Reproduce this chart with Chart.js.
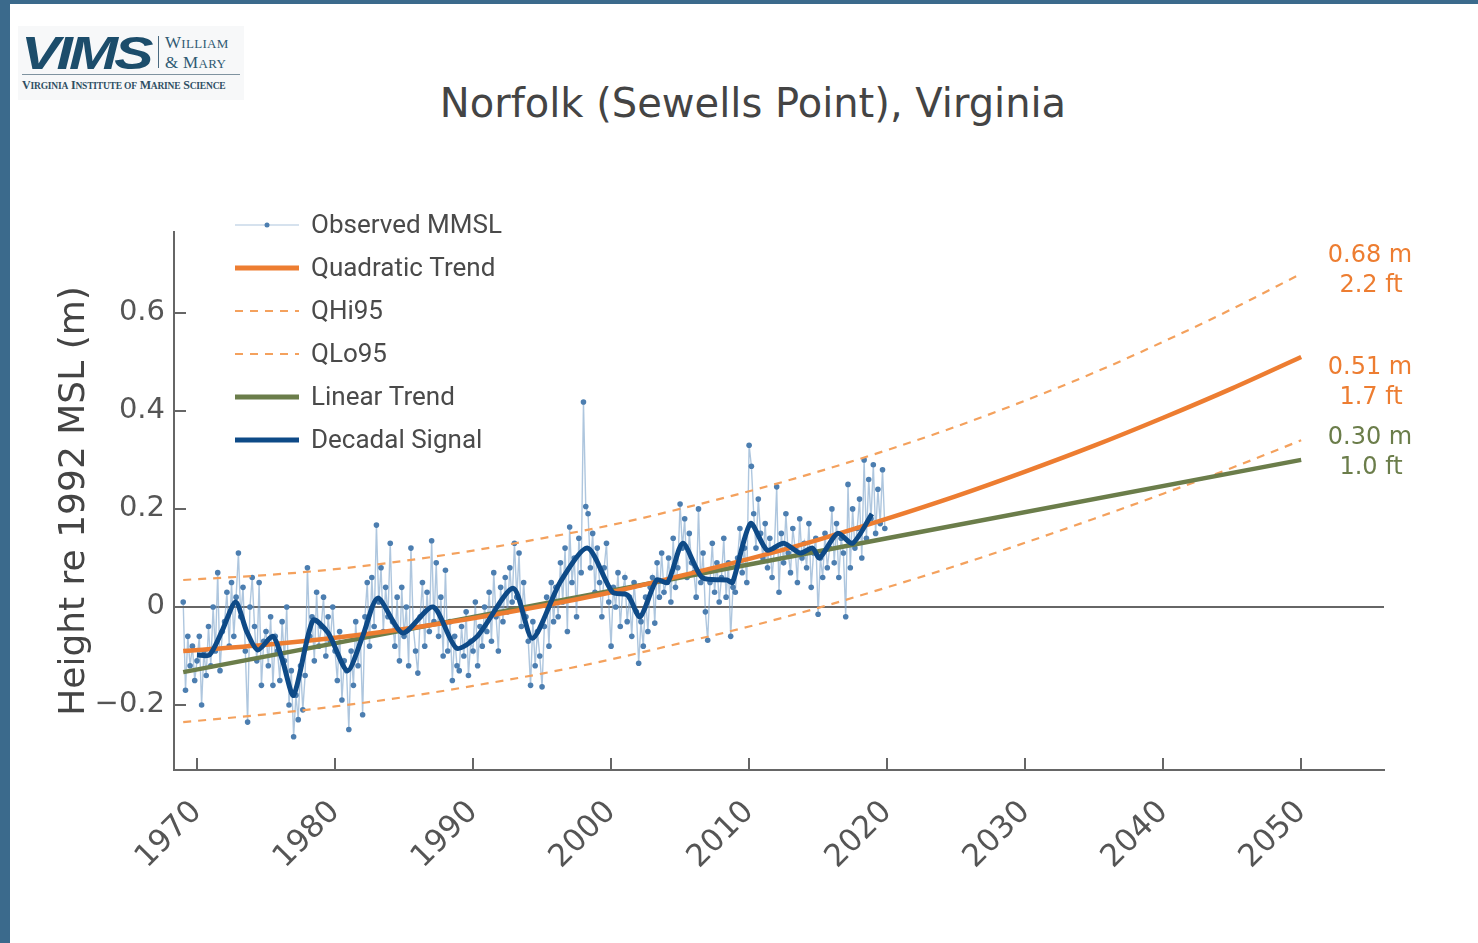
<!DOCTYPE html>
<html>
<head>
<meta charset="utf-8">
<title>Norfolk (Sewells Point), Virginia</title>
<script src="https://cdn.jsdelivr.net/npm/chart.js@4.4.1/dist/chart.umd.min.js"></script>
<style>
    html, body { margin: 0; padding: 0; }
    body { width: 1478px; height: 943px; background: #3b6a8c; position: relative; overflow: hidden; }
    #panel { position: absolute; left: 10px; top: 4px; width: 1468px; height: 939px; background: #fff; }
    #chart { position: absolute; left: 0; top: 0; }
    #title { position: absolute; left: 0; width: 1506px; top: 80px; text-align: center;
             font: 40px "DejaVu Sans", sans-serif; color: #444; }
    #logo { position: absolute; left: 18px; top: 26px; width: 226px; height: 74px; background: #f7f8f9; }
    #logo .vims { position: absolute; left: 3px; top: 0px; font: italic bold 46px "Liberation Sans", sans-serif;
                  letter-spacing: -3px; color: #1c4d6b; transform: scaleX(1.28); transform-origin: left; }
    #logo .bar { position: absolute; left: 140px; top: 10px; width: 1px; height: 32px; background: #4a6a80; }
    #logo .wm { position: absolute; left: 147px; top: 7px; font: 17px "Liberation Serif", serif; color: #2f5a73;
                line-height: 19px; letter-spacing: 0.3px; }
    #logo .wm small { font-size: 13px; }
    #logo .rule { position: absolute; left: 4px; top: 48px; width: 218px; height: 1px; background: #7f93a0; }
    #logo .vi { position: absolute; left: 4px; top: 52px; font: bold 12px "Liberation Serif", serif; color: #2f4f63;
                letter-spacing: -0.2px; white-space: nowrap; }
    #logo .vi small { font-size: 9.5px; }
</style>
</head>
<body>
<div id="panel"></div>
<div id="logo">
    <div class="vims">VIMS</div>
    <div class="bar"></div>
    <div class="wm">W<small>ILLIAM</small><br>&amp; M<small>ARY</small></div>
    <div class="rule"></div>
    <div class="vi">V<small>IRGINIA</small> I<small>NSTITUTE OF</small> M<small>ARINE</small> S<small>CIENCE</small></div>
</div>
<div id="title">Norfolk (Sewells Point), Virginia</div>
<canvas id="chart" width="1478" height="943"></canvas>
<script>
// observed monthly mean sea level, six values per year
var obsYears = [
    1969, 1970, 1971, 1972, 1973, 1974, 1975, 1976, 1977, 1978,
    1979, 1980, 1981, 1982, 1983, 1984, 1985, 1986, 1987, 1988,
    1989, 1990, 1991, 1992, 1993, 1994, 1995, 1996, 1997, 1998,
    1999, 2000, 2001, 2002, 2003, 2004, 2005, 2006, 2007, 2008,
    2009, 2010, 2011, 2012, 2013, 2014, 2015, 2016, 2017, 2018, 2019
];
var obsValues = [
    [0.01, -0.17, -0.06, -0.12, -0.08, -0.15],
    [-0.11, -0.06, -0.20, -0.09, -0.14, -0.04],
    [-0.12, 0.00, -0.09, 0.07, -0.13, -0.05],
    [-0.03, 0.03, -0.08, 0.05, -0.06, 0.02],
    [0.11, -0.02, 0.04, -0.09, -0.235, 0.00],
    [0.06, -0.04, -0.11, 0.05, -0.16, -0.07],
    [-0.05, -0.12, -0.02, -0.16, -0.06, -0.09],
    [-0.15, -0.03, -0.11, 0.00, -0.20, -0.13],
    [-0.265, -0.18, -0.23, -0.12, -0.21, -0.14],
    [0.08, -0.06, -0.02, -0.11, 0.03, -0.08],
    [-0.04, 0.02, -0.10, -0.02, -0.07, 0.00],
    [-0.09, -0.15, -0.05, -0.19, -0.11, -0.13],
    [-0.25, -0.09, -0.16, -0.03, -0.12, -0.06],
    [-0.22, -0.02, 0.05, -0.08, 0.06, -0.04],
    [0.167, 0.01, 0.08, -0.05, 0.04, -0.02],
    [0.13, -0.03, -0.08, 0.02, -0.11, 0.04],
    [-0.06, 0.00, -0.12, 0.12, -0.04, -0.09],
    [-0.135, -0.02, 0.05, -0.08, 0.03, -0.05],
    [0.135, -0.03, 0.09, -0.06, 0.02, -0.10],
    [0.075, -0.09, -0.03, -0.15, -0.06, -0.12],
    [-0.13, -0.04, -0.10, -0.01, -0.14, -0.07],
    [-0.09, 0.01, -0.12, -0.04, -0.08, 0.00],
    [-0.05, 0.03, -0.07, 0.07, -0.02, -0.09],
    [0.04, -0.03, 0.06, -0.01, 0.08, 0.01],
    [0.13, 0.02, 0.11, -0.04, 0.05, -0.02],
    [-0.07, -0.16, -0.03, -0.12, -0.05, -0.10],
    [-0.163, -0.04, 0.02, -0.08, 0.05, -0.03],
    [0.04, -0.02, 0.09, 0.01, 0.12, -0.05],
    [0.163, 0.05, 0.10, -0.02, 0.14, 0.07],
    [0.418, 0.205, 0.19, 0.08, 0.15, 0.03],
    [0.12, 0.05, -0.02, 0.08, 0.13, 0.01],
    [-0.08, 0.04, 0.00, 0.07, -0.04, 0.03],
    [0.06, -0.03, 0.02, -0.06, 0.05, -0.01],
    [-0.115, -0.03, -0.08, 0.02, -0.05, 0.04],
    [0.06, -0.033, 0.09, 0.02, 0.11, 0.03],
    [0.05, 0.10, 0.01, 0.14, 0.04, 0.08],
    [0.21, 0.12, 0.18, 0.06, 0.15, 0.09],
    [0.07, 0.02, 0.20, 0.05, 0.11, -0.01],
    [-0.068, 0.05, 0.13, 0.03, 0.09, 0.01],
    [0.06, 0.14, 0.02, 0.09, -0.06, 0.04],
    [0.03, 0.10, 0.16, 0.07, 0.12, 0.05],
    [0.33, 0.287, 0.19, 0.12, 0.22, 0.15],
    [0.10, 0.17, 0.08, 0.14, 0.06, 0.12],
    [0.245, 0.03, 0.15, 0.09, 0.19, 0.11],
    [0.07, 0.16, 0.12, 0.05, 0.18, 0.10],
    [0.13, 0.08, 0.17, 0.04, 0.11, 0.14],
    [-0.015, 0.10, 0.06, 0.15, 0.08, 0.12],
    [0.20, 0.09, 0.17, 0.06, 0.14, 0.11],
    [-0.02, 0.25, 0.08, 0.20, 0.12, 0.16],
    [0.22, 0.10, 0.30, 0.14, 0.26, 0.18],
    [0.29, 0.15, 0.24, 0.17, 0.28, 0.16]
];

var decadalYears = [
    1970.0, 1970.9, 1971.8, 1972.8, 1973.6, 1974.4, 1975.5, 1976.2, 1977.0, 1978.4,
    1979.5, 1980.9, 1982.0, 1983.1, 1984.9, 1987.1, 1988.8, 1990.3, 1992.9, 1994.3,
    1996.3, 1998.3, 2000.1, 2001.2, 2002.1, 2003.3, 2004.1, 2005.2, 2006.6, 2008.4,
    2008.8, 2010.1, 2011.3, 2012.5, 2013.7, 2014.6, 2015.1, 2016.4, 2017.5, 2018.9
];
var decadalValues = [
    -0.098, -0.098, -0.05, 0.01, -0.05, -0.088, -0.06, -0.11, -0.18, -0.027,
    -0.053, -0.13, -0.06, 0.018, -0.053, 0.0, -0.084, -0.06, 0.038, -0.064,
    0.05, 0.12, 0.03, 0.024, -0.02, 0.055, 0.05, 0.13, 0.06, 0.055,
    0.05, 0.17, 0.116, 0.13, 0.11, 0.12, 0.10, 0.15, 0.13, 0.19
];

var trendYears  = [1969, 1975, 1980, 1985, 1990, 1995, 2000, 2005, 2010, 2015, 2020, 2025, 2030, 2035, 2040, 2045, 2050];
var quadValues  = [-0.090, -0.077, -0.063, -0.045, -0.023, 0.002, 0.030, 0.063, 0.098, 0.137, 0.180, 0.226, 0.276, 0.329, 0.386, 0.446, 0.510];
var qHiValues   = [0.055, 0.065, 0.077, 0.094, 0.115, 0.140, 0.167, 0.200, 0.236, 0.276, 0.320, 0.368, 0.421, 0.478, 0.541, 0.608, 0.680];
var qLoValues   = [-0.235, -0.219, -0.203, -0.184, -0.161, -0.136, -0.107, -0.074, -0.040, -0.002, 0.040, 0.084, 0.131, 0.180, 0.231, 0.284, 0.340];

var linearYears  = [1969, 2020, 2050];
var linearValues = [-0.133, 0.140, 0.300];

var xTicks = [1970, 1980, 1990, 2000, 2010, 2020, 2030, 2040, 2050];
var yTicks = [-0.2, 0, 0.2, 0.4, 0.6];

var endLabels = [
    { lines: ["0.68 m", "2.2 ft"], color: "#ed7d31", y: 271 },
    { lines: ["0.51 m", "1.7 ft"], color: "#ed7d31", y: 383 },
    { lines: ["0.30 m", "1.0 ft"], color: "#6b7d4a", y: 453 }
];

var ORANGE = "#ed7d31", ORANGE_LT = "#f4a15d", GREEN = "#6b7d4a", NAVY = "#0e4a87";

function pairs(xs, ys) {
    return xs.map(function (x, i) { return { x: x, y: ys[i] }; });
}

var obsPoints = [];
obsYears.forEach(function (yr, i) {
    obsValues[i].forEach(function (v, m) {
        obsPoints.push({ x: yr + m / 6, y: v });
    });
});

// tick marks point into the plot, and the legend sits inside it
var insideTicks = {
    id: "insideTicks",
    afterDraw: function (chart) {
        var c = chart.ctx, a = chart.chartArea;
        var xs = chart.scales.x, ys = chart.scales.y;
        c.save();
        c.strokeStyle = "#666";
        c.lineWidth = 2;
        xTicks.forEach(function (t) {
            var px = Math.round(xs.getPixelForValue(t));
            c.beginPath(); c.moveTo(px, a.bottom); c.lineTo(px, a.bottom - 12); c.stroke();
        });
        yTicks.forEach(function (t) {
            var py = Math.round(ys.getPixelForValue(t));
            c.beginPath(); c.moveTo(a.left, py); c.lineTo(a.left + 12, py); c.stroke();
        });
        c.restore();
    }
};

var legendBox = {
    id: "legendBox",
    afterDraw: function (chart) {
        var c = chart.ctx;
        var x0 = 235, x1 = 299, tx = 311, top = 225, step = 43;
        c.save();
        c.font = "26px Roboto, sans-serif";
        c.textBaseline = "middle";
        chart.data.datasets.forEach(function (ds, i) {
            var y = top + step * i;
            c.strokeStyle = ds.borderColor;
            c.lineWidth = ds.legendWidth;
            c.setLineDash(ds.borderDash || []);
            c.beginPath(); c.moveTo(x0, y); c.lineTo(x1, y); c.stroke();
            c.setLineDash([]);
            if (ds.pointRadius > 0) {
                c.fillStyle = ds.pointBackgroundColor;
                c.beginPath(); c.arc((x0 + x1) / 2, y, 2.5, 0, Math.PI * 2); c.fill();
            }
            c.fillStyle = "#4a4a4a";
            c.fillText(ds.label, tx, y + 1);
        });
        c.restore();
    }
};

var endText = {
    id: "endText",
    afterDraw: function (chart) {
        var c = chart.ctx;
        c.save();
        c.font = "24px 'DejaVu Sans', sans-serif";
        c.textAlign = "center";
        c.textBaseline = "middle";
        endLabels.forEach(function (lab) {
            c.fillStyle = lab.color;
            c.fillText(lab.lines[0], 1370, lab.y - 15);
            c.fillText(lab.lines[1], 1371, lab.y + 15);
        });
        c.restore();
    }
};

new Chart(document.getElementById("chart").getContext("2d"), {
    type: "line",
    data: {
        datasets: [
            {
                label: "Observed MMSL", data: obsPoints, order: 5,
                borderColor: "rgba(120,160,200,0.6)", borderWidth: 1.4, legendWidth: 1.2,
                pointRadius: 2.8, pointBackgroundColor: "#4c7eb0", pointBorderWidth: 0
            },
            {
                label: "Quadratic Trend", data: pairs(trendYears, quadValues), order: 1,
                borderColor: ORANGE, borderWidth: 4.5, legendWidth: 5, pointRadius: 0, cubicInterpolationMode: "monotone"
            },
            {
                label: "QHi95", data: pairs(trendYears, qHiValues), order: 3,
                borderColor: ORANGE_LT, borderWidth: 2.2, legendWidth: 2, borderDash: [8, 7], pointRadius: 0,
                cubicInterpolationMode: "monotone"
            },
            {
                label: "QLo95", data: pairs(trendYears, qLoValues), order: 3,
                borderColor: ORANGE_LT, borderWidth: 2.2, legendWidth: 2, borderDash: [8, 7], pointRadius: 0,
                cubicInterpolationMode: "monotone"
            },
            {
                label: "Linear Trend", data: pairs(linearYears, linearValues), order: 2,
                borderColor: GREEN, borderWidth: 4.5, legendWidth: 5, pointRadius: 0
            },
            {
                label: "Decadal Signal", data: pairs(decadalYears, decadalValues), order: 0,
                borderColor: NAVY, borderWidth: 5, legendWidth: 5, pointRadius: 0, tension: 0.25
            }
        ]
    },
    options: {
        responsive: false,
        animation: false,
        layout: { padding: { top: 232, right: 94, left: 0, bottom: 0 } },
        plugins: { legend: { display: false }, tooltip: { enabled: false } },
        scales: {
            x: {
                type: "linear", min: 1968.333, max: 2056,
                afterBuildTicks: function (s) { s.ticks = xTicks.map(function (v) { return { value: v }; }); },
                afterFit: function (s) { s.height = 173; },
                grid: { display: false, drawTicks: false },
                border: { display: true, color: "#666", width: 2 },
                ticks: {
                    minRotation: 45, maxRotation: 45, padding: 24, autoSkip: false,
                    color: "#555", font: { family: "'DejaVu Sans'", size: 31 },
                    callback: function (v) { return String(v); }
                }
            },
            y: {
                min: -0.3327, max: 0.765,
                afterBuildTicks: function (s) { s.ticks = yTicks.map(function (v) { return { value: v }; }); },
                afterFit: function (s) { s.width = 174; },
                grid: {
                    drawTicks: false, lineWidth: 2,
                    color: function (ctx) { return ctx.tick && ctx.tick.value === 0 ? "#666" : "rgba(0,0,0,0)"; }
                },
                border: { display: true, color: "#666", width: 2 },
                ticks: {
                    padding: 9, color: "#555", font: { family: "'DejaVu Sans'", size: 29 },
                    callback: function (v) {
                        if (v === 0) return "0";
                        return (v < 0 ? "\u2212" : "") + Math.abs(v).toFixed(1);
                    }
                },
                title: {
                    display: true, text: "Height re 1992 MSL (m)", color: "#444",
                    font: { family: "'DejaVu Sans'", size: 36 }, padding: { top: 53 }
                }
            }
        }
    },
    plugins: [insideTicks, legendBox, endText]
});
</script>
</body>
</html>
